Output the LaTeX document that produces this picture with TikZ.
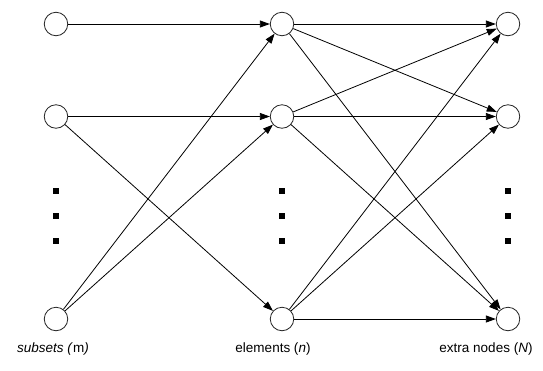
\documentclass[tikz,border=0pt]{standalone}
\usepackage{fontspec}
\setmainfont{Liberation Sans}
\usetikzlibrary{arrows.meta}
\begin{document}
\begin{tikzpicture}[x=1pt,y=-1pt,
  vnode/.style={circle,draw=black!85,line width=0.8pt,minimum size=23.5pt,inner sep=0pt},
  edge/.style={line width=0.8pt,-{Triangle[length=10pt,width=7pt]}},
  dotsq/.style={fill=black,minimum size=5.5pt,inner sep=0pt},
  lab/.style={font=\fontsize{13.5}{16}\selectfont,anchor=base}]
\useasboundingbox (0,0) rectangle (543,370);
% nodes
\foreach \c/\x in {L/56,M/282,R/508}{
  \node[vnode] (\c1) at (\x,24) {};
  \node[vnode] (\c2) at (\x,116.5) {};
  \node[vnode] (\c3) at (\x,319) {};
  \node[dotsq] (\c d1) at (\x,191) {};
  \node[dotsq] (\c d2) at (\x,216) {};
  \node[dotsq] (\c d3) at (\x,241) {};
}
% left to middle
\draw[edge] (L1) -- (M1);
\draw[edge] (L2) -- (M2);
\draw[edge] (L2) -- (M3);
\draw[edge] (L3) -- (M1);
\draw[edge] (L3) -- (M2);
% middle to right
\foreach \a in {1,2,3}{
  \foreach \b in {1,2,3}{
    \draw[edge] (M\a) -- (R\b);
  }
}
% labels
\node[lab] (t1) at (53,352) {\textit{subsets (}m\textit{)}};
\node[lab] (t2) at (273,352) {elements (\textit{n})};
\node[lab] (t3) at (486,352) {extra nodes (\textit{N})};
\end{tikzpicture}
\end{document}
